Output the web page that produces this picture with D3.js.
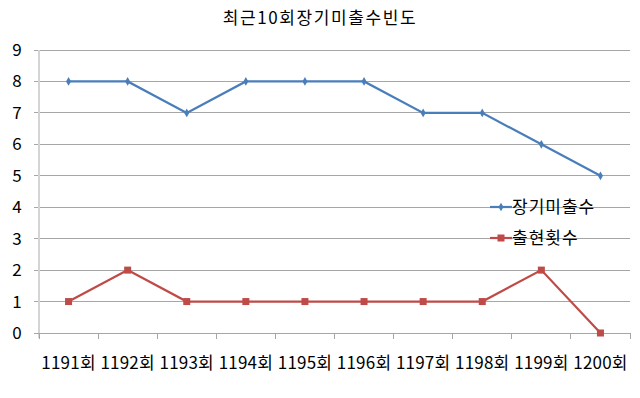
<!DOCTYPE html>
<html>
<head>
<meta charset="utf-8">
<script src="https://cdn.jsdelivr.net/npm/d3@7"></script>
<style>
  body { margin: 0; background: #fff; }
  text { font-family: "Noto Sans CJK KR", "Noto Sans", sans-serif; fill: #000; }
</style>
</head>
<body>
<svg id="chart" width="640" height="398"></svg>
<script>
const rounds = ["1191회", "1192회", "1193회", "1194회", "1195회", "1196회", "1197회", "1198회", "1199회", "1200회"];
const missCount = [8, 8, 7, 8, 8, 8, 7, 7, 6, 5];
const hitCount = [1, 2, 1, 1, 1, 1, 1, 1, 2, 0];
const seriesNames = ["장기미출수", "출현횟수"];
const yTicks = [0, 1, 2, 3, 4, 5, 6, 7, 8, 9];

const svg = d3.select("#chart");
const margin = {top: 50, right: 10, bottom: 65, left: 39};
const width = 640 - margin.left - margin.right;
const height = 398 - margin.top - margin.bottom;

const x = d3.scaleBand().domain(rounds).range([0, width]);
const y = d3.scaleLinear().domain([0, 9]).range([height, 0]);

svg.append("text")
    .attr("x", 320).attr("y", 24)
    .attr("text-anchor", "middle")
    .style("font-size", "17px")
    .style("letter-spacing", "1.6px")
    .text("최근10회장기미출수빈도");

const g = svg.append("g").attr("transform", `translate(${margin.left},${margin.top})`);

// gridlines
g.append("g")
    .selectAll("line")
    .data(yTicks.filter(d => d > 0))
    .join("line")
        .attr("x1", -5).attr("x2", width)
        .attr("y1", d => y(d)).attr("y2", d => y(d))
        .attr("stroke", "#a6a6a6")
        .attr("stroke-width", 1)
        .attr("shape-rendering", "crispEdges");

// y labels
g.append("g")
    .selectAll("text")
    .data(yTicks)
    .join("text")
        .attr("x", -22).attr("y", d => y(d))
        .attr("dy", "0.35em")
        .attr("text-anchor", "middle")
        .style("font-size", "17px")
        .text(d => d);

// y axis line
g.append("line")
    .attr("x1", 0).attr("x2", 0)
    .attr("y1", y(9)).attr("y2", height + 5)
    .attr("stroke", "#d4d4d4").attr("stroke-width", 2);

// x axis
const xAxis = g.append("g").attr("transform", `translate(0,${height})`);
xAxis.append("line")
    .attr("x1", -5).attr("x2", width)
    .attr("stroke", "#a6a6a6").attr("shape-rendering", "crispEdges");
xAxis.selectAll(".tick")
    .data(rounds.concat(["end"]))
    .join("line")
        .attr("class", "tick")
        .attr("x1", (d, i) => i * x.step()).attr("x2", (d, i) => i * x.step())
        .attr("y1", 0).attr("y2", 6)
        .attr("stroke", "#a6a6a6").attr("shape-rendering", "crispEdges");
xAxis.selectAll("text")
    .data(rounds)
    .join("text")
        .attr("x", d => x(d) + x.bandwidth() / 2)
        .attr("y", 36)
        .attr("text-anchor", "middle")
        .style("font-size", "17px")
        .style("letter-spacing", "0.2px")
        .text(d => d);

const cx = d => x(d) + x.bandwidth() / 2;
const line = d3.line().x(d => cx(d[0])).y(d => y(d[1]));

const blue = "#4a7ebb", red = "#be4b48";

const missData = rounds.map((r, i) => [r, missCount[i]]);
const hitData = rounds.map((r, i) => [r, hitCount[i]]);

g.append("path").datum(missData)
    .attr("d", line).attr("fill", "none")
    .attr("stroke", blue).attr("stroke-width", 2.2);
g.selectAll(".diamond").data(missData)
    .join("path")
        .attr("class", "diamond")
        .attr("d", d3.symbol(d3.symbolDiamond, 22))
        .attr("transform", d => `translate(${cx(d[0])},${y(d[1])})`)
        .attr("fill", blue);

g.append("path").datum(hitData)
    .attr("d", line).attr("fill", "none")
    .attr("stroke", red).attr("stroke-width", 2.2);
g.selectAll(".square").data(hitData)
    .join("rect")
        .attr("class", "square")
        .attr("x", d => cx(d[0]) - 3.5).attr("y", d => y(d[1]) - 3.5)
        .attr("width", 7).attr("height", 7)
        .attr("fill", red);

// legend
const legend = svg.append("g").attr("transform", "translate(490,207)");
const legendRows = [
    {name: seriesNames[0], color: blue, shape: "diamond"},
    {name: seriesNames[1], color: red, shape: "square"}
];
legendRows.forEach((s, i) => {
    const row = legend.append("g").attr("transform", `translate(0,${i * 31})`);
    row.append("line").attr("x1", 0).attr("x2", 22)
        .attr("stroke", s.color).attr("stroke-width", 2.2);
    if (s.shape === "diamond") {
        row.append("path").attr("d", d3.symbol(d3.symbolDiamond, 22))
            .attr("transform", "translate(11,0)").attr("fill", s.color);
    } else {
        row.append("rect").attr("x", 7.5).attr("y", -3.5)
            .attr("width", 7).attr("height", 7).attr("fill", s.color);
    }
    row.append("text").attr("x", 22).attr("dy", "0.35em")
        .style("font-size", "17px")
        .style("letter-spacing", "1px")
        .text(s.name);
});
</script>
</body>
</html>
